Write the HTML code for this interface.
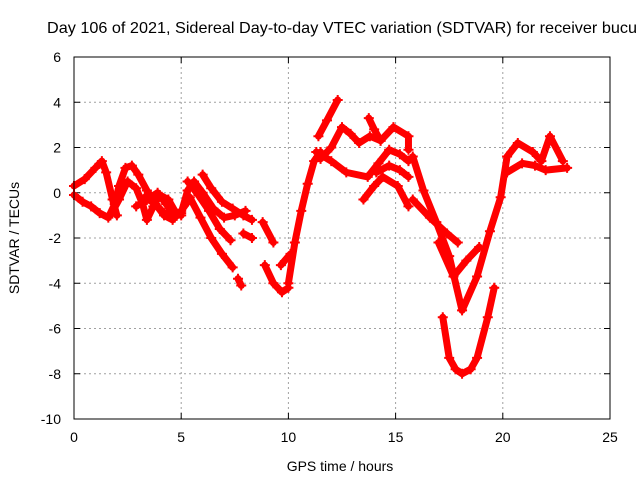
<!DOCTYPE html>
<html><head><meta charset="utf-8"><style>
body{margin:0;background:#fff;overflow:hidden;}
svg{display:block;font-family:"Liberation Sans",sans-serif;}
</style></head><body>
<svg id="chart" width="640" height="480">
<text x="47" y="33" font-size="16" textLength="590" lengthAdjust="spacingAndGlyphs">Day 106 of 2021, Sidereal Day-to-day VTEC variation (SDTVAR) for receiver bucu</text>
<text x="340" y="471" font-size="14" text-anchor="middle">GPS time / hours</text>
<text transform="translate(19,238) rotate(-90)" font-size="14" text-anchor="middle">SDTVAR / TECUs</text>
<g id="grid"></g><g id="marks"></g>
<rect x="74" y="57" width="536" height="362" fill="none" stroke="#000" stroke-width="1"/>
</svg>
<script>
const xTicks=[0,5,10,15,20,25];
const yTicks=[6,4,2,0,-2,-4,-6,-8,-10];
const tr1=[[0,0.3],[0.5,0.6],[1.0,1.1],[1.3,1.4],[1.5,0.9],[1.8,-0.3],[2.0,-1.0]];
const tr2=[[0,-0.1],[0.4,-0.4],[0.8,-0.6],[1.2,-0.9],[1.6,-1.1],[1.9,-0.5],[2.1,0.3],[2.4,1.1],[2.7,1.2],[3.0,0.8],[3.4,0.1],[3.8,-0.5],[4.2,-1.0],[4.6,-1.2]];
const tr3=[[1.7,-1.0],[2.1,-0.3],[2.5,0.5],[2.9,0.2],[3.2,-0.5],[3.4,-1.2],[3.7,-0.6],[4.0,-0.1],[4.4,-0.3],[4.7,-0.8],[5.0,-1.0]];
const tr4=[[2.9,-0.6],[3.4,-0.3],[3.9,0],[4.3,-0.5],[4.7,-1.1],[5.0,-0.8],[5.3,-0.4]];
const tr5=[[3.3,-0.2],[3.8,-0.5],[4.2,-0.9],[4.6,-1.0],[5.0,-0.9],[5.3,0.1],[5.6,0.5],[6.0,0],[6.5,-0.7],[7.0,-1.1],[7.5,-1.0],[8.0,-0.8]];
const tr6=[[5.3,0.5],[5.8,-0.1],[6.3,-0.8],[6.8,-1.6],[7.3,-2.1]];
const tr7=[[5.4,-0.2],[5.9,-1.1],[6.4,-2.0],[6.9,-2.7],[7.4,-3.3]];
const tr8=[[6.0,0.8],[6.4,0.2],[6.9,-0.4],[7.4,-0.7],[7.9,-1.0],[8.3,-1.2]];
const tr9=[[7.65,-3.8],[7.8,-4.1]];
const tr10=[[7.9,-1.8],[8.3,-2.0]];
const tr11=[[8.8,-1.3],[9.3,-2.2]];
const tr12=[[8.9,-3.2],[9.3,-4.0],[9.7,-4.4],[10.0,-4.2]];
const tr13=[[9.65,-3.2],[10.1,-2.7]];
const tr14=[[10.0,-4.0],[10.3,-2.2],[10.6,-0.8],[10.9,0.4],[11.2,1.4],[11.5,1.8]];
const tr15=[[11.4,2.5],[11.8,3.2],[12.3,4.1]];
const tr16=[[11.5,1.5],[12.0,2.0],[12.5,2.9],[12.9,2.6],[13.3,2.2],[13.8,2.5],[14.3,2.3],[14.9,2.9],[15.6,2.5],[15.6,1.9]];
const tr17=[[13.75,3.3],[14.0,2.8],[14.3,2.3]];
const tr18=[[11.3,1.8],[12.0,1.4],[12.7,0.9],[13.7,0.7],[14.2,1.3],[14.7,1.9],[15.2,1.7],[15.6,1.4]];
const tr19=[[14.1,0.9],[14.7,1.2],[15.2,1.0],[15.6,0.7]];
const tr20=[[13.5,-0.3],[14.0,0.3],[14.4,0.7],[15.1,0.3],[15.6,-0.6]];
const tr21=[[15.8,1.6],[16.3,0.1],[16.9,-1.3],[17.5,-2.8],[18.1,-5.2],[18.8,-3.7],[19.4,-1.7],[19.9,-0.2],[20.2,1.6],[20.7,2.2],[21.4,1.8],[21.8,1.4],[22.2,2.5],[22.8,1.4]];
const tr22=[[15.8,-0.3],[16.6,-1.1],[17.4,-1.8],[17.9,-2.2]];
const tr23=[[17.0,-2.2],[17.7,-3.7],[18.3,-3.0],[18.9,-2.4]];
const tr24=[[17.2,-5.5],[17.5,-7.3],[17.8,-7.8],[18.1,-8.0],[18.5,-7.8],[18.8,-7.3],[19.3,-5.5],[19.6,-4.2]];
const tr25=[[20.2,0.9],[20.9,1.3],[21.5,1.2],[22.0,1.0],[23.0,1.1]];
const tracks=[tr1,tr2,tr3,tr4,tr5,tr6,tr7,tr8,tr9,tr10,tr11,tr12,tr13,tr14,tr15,tr16,tr17,tr18,tr19,tr20,tr21,tr22,tr23,tr24,tr25];

const X0=74,X1=610,Y0=57,Y1=419;
const xs=t=>X0+(t-0)/(25-0)*(X1-X0);
const ys=v=>Y0+(6-v)/(16)*(Y1-Y0);
const NS='http://www.w3.org/2000/svg';
const grid=document.getElementById('grid'),marks=document.getElementById('marks');
function mk(tag,attrs,parent){const e=document.createElementNS(NS,tag);for(const k in attrs)e.setAttribute(k,attrs[k]);parent.appendChild(e);return e;}
xTicks.forEach(t=>{
  const x=xs(t);
  if(t>0&&t<25){const g=mk('line',{x1:x,x2:x,y1:Y0,y2:Y1,stroke:'#a0a0a0','stroke-dasharray':'2,3'},grid);
  
  }
  mk('line',{x1:x,x2:x,y1:Y1,y2:Y1-6,stroke:'#000'},grid);
  mk('line',{x1:x,x2:x,y1:Y0,y2:Y0+6,stroke:'#000'},grid);
  const l=mk('text',{x:x,y:Y1+23,'font-size':14,'text-anchor':'middle'},grid);l.textContent=t;
  
  
});
yTicks.forEach(v=>{
  const y=ys(v);
  if(v>-10&&v<6){const g=mk('line',{x1:X0,x2:X1,y1:y,y2:y,stroke:'#a0a0a0','stroke-dasharray':'2,3'},grid);
  
  }
  mk('line',{x1:X0,x2:X0+6,y1:y,y2:y,stroke:'#000'},grid);
  mk('line',{x1:X1,x2:X1-6,y1:y,y2:y,stroke:'#000'},grid);
  const l=mk('text',{x:X0-13,y:y+5,'font-size':14,'text-anchor':'end'},grid);l.textContent=v;
  
  
});
tracks.forEach((tr,i)=>{
  const g=mk('g',{},marks);
  
  
  mk('polyline',{points:tr.map(p=>xs(p[0])+','+ys(p[1])).join(' '),fill:'none',stroke:'#ff0000','stroke-width':7,'stroke-linejoin':'round','stroke-linecap':'round'},g);
  tr.forEach(p=>{const x=xs(p[0]),y=ys(p[1]);
    mk('path',{d:`M${x-5},${y}H${x+5}M${x},${y-5}V${y+5}`,stroke:'#ff0000','stroke-width':2},g);});
});
</script>
</body></html>
